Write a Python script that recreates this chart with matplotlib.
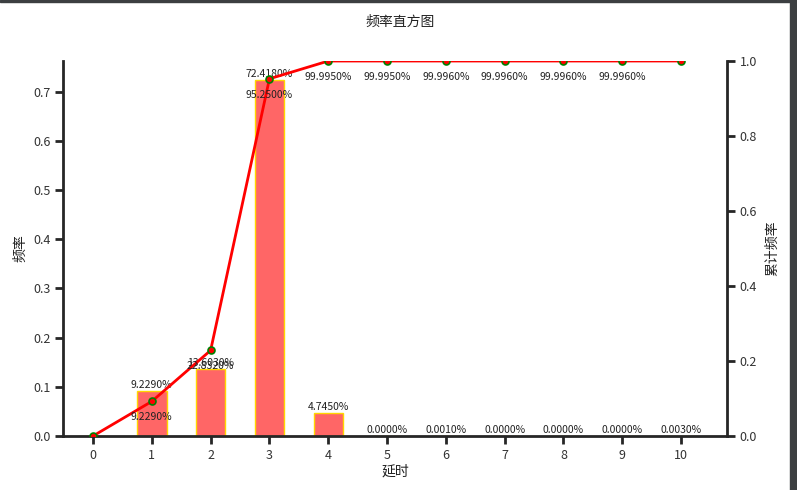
"""延时频率直方图 + 累计频率折线."""

import matplotlib

matplotlib.use("Agg")
import matplotlib.pyplot as plt
from matplotlib.patches import Rectangle

plt.rcParams["font.family"] = ["Noto Sans CJK SC", "DejaVu Sans"]
plt.rcParams["axes.unicode_minus"] = False

delays = [0, 1, 2, 3, 4, 5, 6, 7, 8, 9, 10]
freq_pct = [0.0, 9.229, 13.603, 72.418, 4.745, 0.0, 0.001, 0.0, 0.0, 0.0, 0.003]
cum_pct = [0.0, 9.229, 22.832, 95.250, 99.995, 99.995, 99.996, 99.996, 99.996, 99.996, 99.999]

freq = [v / 100 for v in freq_pct]
cum = [v / 100 for v in cum_pct]

DARK = "#262626"

fig = plt.figure(figsize=(7.97, 4.90), dpi=100)
ax1 = fig.add_axes([63 / 797, 1 - 436 / 490, 664 / 797, 375 / 490])
ax2 = ax1.twinx()

ax1.bar(delays, freq, width=0.5, color="#ff6666", edgecolor="#ffd700", linewidth=1)
ax2.plot(delays, cum, color="red", linewidth=2, marker="o", markersize=5,
         markerfacecolor="red", markeredgecolor="green", markeredgewidth=1.2)

# 柱顶标注 (频率)
for x, v, p in zip(delays[1:], freq[1:], freq_pct[1:]):
    ax1.text(x, v + 0.002, f"{p:.4f}%", ha="center", va="bottom",
             fontsize=7.5, color="#222222")

# 折线点下方标注 (累计频率)
for x, v, p in zip(delays[1:10], cum[1:10], cum_pct[1:10]):
    ax2.text(x, v - 0.042, f"{p:.4f}%", ha="center", va="center",
             fontsize=7.5, color="#222222")

ax1.set_xlim(-0.51, 10.78)
ax1.set_ylim(0, max(freq) * 1.053)
ax2.set_ylim(0, 1.0)
ax1.set_xticks(delays)
ax1.set_yticks([0.0, 0.1, 0.2, 0.3, 0.4, 0.5, 0.6, 0.7])
ax2.set_yticks([0.0, 0.2, 0.4, 0.6, 0.8, 1.0])
ax1.yaxis.set_major_formatter(matplotlib.ticker.FormatStrFormatter("%.1f"))
ax2.yaxis.set_major_formatter(matplotlib.ticker.FormatStrFormatter("%.1f"))

for ax in (ax1, ax2):
    ax.spines["top"].set_visible(False)
    for side in ("left", "right", "bottom"):
        ax.spines[side].set_linewidth(2)
        ax.spines[side].set_color(DARK)
    ax.tick_params(direction="out", length=6, width=2, color=DARK,
                   labelsize=9, labelcolor="#333333", pad=3)
ax1.spines["right"].set_visible(False)
ax2.spines["left"].set_visible(False)
ax2.spines["bottom"].set_visible(False)

ax1.set_xlabel("延时", fontsize=10, color="#222222", labelpad=2)
ax1.set_ylabel("频率", fontsize=10, color="#222222", labelpad=4)
ax2.set_ylabel("累计频率", fontsize=10, color="#222222", labelpad=6)

fig.text(400 / 797, 1 - 22 / 490, "频率直方图", ha="center", va="center",
         fontsize=10, color="#222222")

# 截图边缘的深色条
fig.patches.append(Rectangle((790 / 797, 0), 7 / 797, 1, transform=fig.transFigure,
                             color="#3c3f41", zorder=10))
fig.patches.append(Rectangle((0, 1 - 2 / 490), 1, 2 / 490, transform=fig.transFigure,
                             color="#3c3f41", zorder=10))

fig.savefig("out.png", dpi=100)
plt.close(fig)
